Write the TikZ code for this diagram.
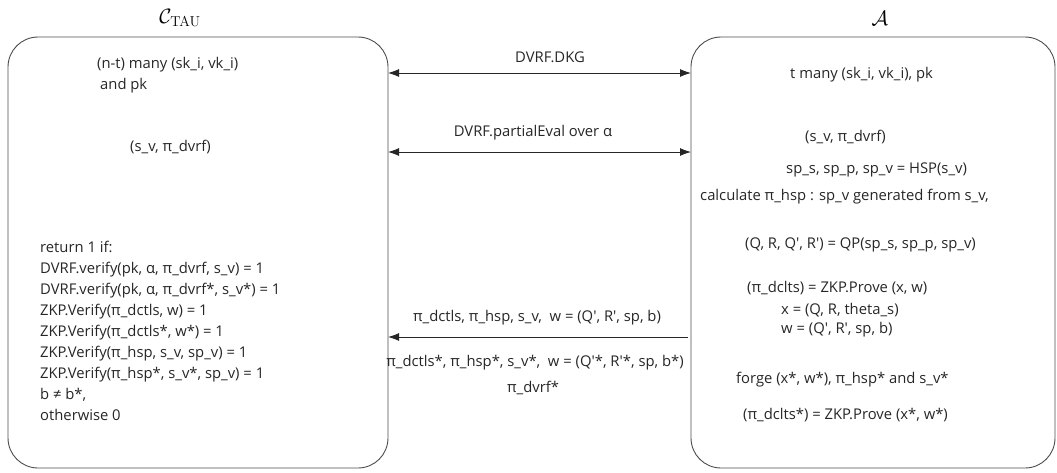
\documentclass[tikz,border=0pt]{standalone}
\usepackage[no-math]{fontspec}
\setmainfont{Open Sans}
\usetikzlibrary{arrows.meta}
% straight prime mark for the primed variables
\newcommand{\pr}{\textquotesingle}
\begin{document}
\begin{tikzpicture}[x=1pt,y=-1pt,
  party/.style={draw=black!70,line width=0.9pt,rounded corners=30pt},
  txt/.style={inner sep=0pt,anchor=west,text=black!85,font=\fontsize{14.8}{17}\selectfont},
  ctxt/.style={inner sep=0pt,text=black!85,font=\fontsize{14.8}{17}\selectfont},
  title/.style={inner sep=0pt,font=\fontsize{21}{24}\selectfont},
  msg/.style={line width=0.9pt,draw=black!85},
  tip/.style={-{Latex[length=11pt,width=8pt]}},
  dtip/.style={{Latex[length=11pt,width=8pt]}-{Latex[length=11pt,width=8pt]}},
]
\useasboundingbox (0,0) rectangle (1057,472);

% the two parties
\draw[party] (8,37) rectangle (388,468);
\draw[party] (691,37) rectangle (1055,468);
\node[title] (tauT) at (180,18) {$\mathcal{C}_{\mathrm{TAU}}$};
\node[title] (advT) at (880,18) {$\mathcal{A}$};

% edge points for the messages
\coordinate (dkgL) at (388,73);  \coordinate (dkgR) at (691,73);
\coordinate (peL) at (388,152);  \coordinate (peR) at (691,152);
\coordinate (chL) at (388,337);  \coordinate (chR) at (688,337);

\draw[msg,dtip] (dkgL) -- (dkgR);
\draw[msg,dtip] (peL) -- (peR);
\draw[msg,tip] (chR) -- (chL);

\node[ctxt] (dkg) at (550,57) {DVRF.DKG};
\node[ctxt] (pe) at (533,133) {DVRF.partialEval over α};
\node[ctxt] (ch1) at (537,318) {π\_dctls, π\_hsp, s\_v,\ \ w = (Q\pr, R\pr, sp, b)};
\node[ctxt] (ch2) at (535,363) {π\_dctls*, π\_hsp*, s\_v*,\ \ w = (Q\pr*, R\pr*, sp, b*)};
\node[ctxt] (ch3) at (533,388) {π\_dvrf*};

% challenger side
\node[txt] (l1) at (97,65) {(n-t) many (sk\_i, vk\_i)};
\node[txt] (l2) at (100,86) {and pk};
\node[txt] (l3) at (130,147) {(s\_v, π\_dvrf)};
\node[txt,align=left,font=\fontsize{14.8}{21}\selectfont,anchor=north west] (l4) at (40,241)
  {return 1 if:\\
   DVRF.verify(pk, α, π\_dvrf, s\_v) = 1\\
   DVRF.verify(pk, α, π\_dvrf*, s\_v*) = 1\\
   ZKP.Verify(π\_dctls, w) = 1\\
   ZKP.Verify(π\_dctls*, w*) = 1\\
   ZKP.Verify(π\_hsp, s\_v, sp\_v) = 1\\
   ZKP.Verify(π\_hsp*, s\_v*, sp\_v) = 1\\
   b ≠ b*,\\
   otherwise 0};

% adversary side
\node[txt] (r1) at (790,75) {t many (sk\_i, vk\_i), pk};
\node[txt] (r2) at (805,137) {(s\_v, π\_dvrf)};
\node[txt] (r3) at (786,170) {sp\_s, sp\_p, sp\_v = HSP(s\_v)};
\node[txt] (r4) at (700,197) {calculate π\_hsp : sp\_v generated from s\_v,};
\node[txt] (r5) at (745,245) {(Q, R, Q\pr, R\pr) = QP(sp\_s, sp\_p, sp\_v)};
\node[txt] (r6) at (747,288) {(π\_dclts) = ZKP.Prove (x, w)};
\node[txt] (r7) at (781,310) {x = (Q, R, theta\_s)};
\node[txt] (r8) at (781,330) {w = (Q\pr, R\pr, sp, b)};
\node[txt] (r9) at (736,380) {forge (x*, w*), π\_hsp* and s\_v*};
\node[txt] (r10) at (743,415) {(π\_dclts*) = ZKP.Prove (x*, w*)};
\end{tikzpicture}
\end{document}
